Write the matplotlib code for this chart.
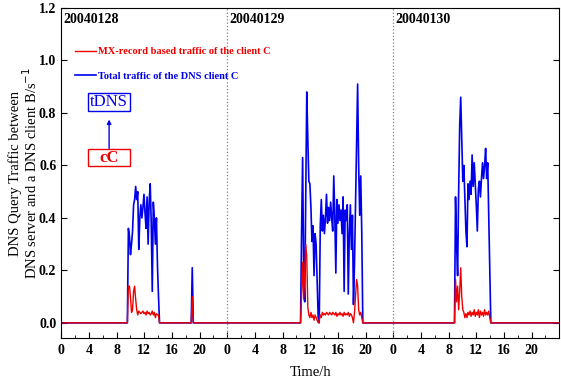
import matplotlib
matplotlib.use("Agg")
import matplotlib.pyplot as plt
import numpy as np
from matplotlib.patches import Rectangle

plt.rcParams['font.family'] = ['Liberation Serif', 'DejaVu Serif']

# sampling step (hours) inside every active period
step = 0.15

# day 1 (20040128)
d1_start = 9.72
d1_blue = [0.36, 0.33, 0.26, 0.30, 0.35, 0.45, 0.47, 0.52, 0.47, 0.50,
           0.28, 0.40, 0.45, 0.40, 0.44, 0.49, 0.42, 0.36, 0.48, 0.30,
           0.46, 0.53, 0.38, 0.12, 0.46, 0.40, 0.30, 0.40, 0.22, 0.10, 0.0]
d1_red = [0.14, 0.14, 0.10, 0.04, 0.05, 0.12, 0.14, 0.09, 0.05, 0.03,
          0.045, 0.04, 0.035, 0.04, 0.045, 0.035, 0.04, 0.03, 0.045, 0.035,
          0.04, 0.03, 0.035, 0.045, 0.03, 0.04, 0.02, 0.035, 0.03, 0.03, 0.0]

# short spike late on day 1
sp_start = 18.95
sp_blue = [0.21]
sp_red = [0.10]

# day 2 (20040129)
d2_start = 34.75
d2_blue = [0.35, 0.63, 0.20, 0.08, 0.50, 0.88, 0.70, 0.54, 0.53, 0.44,
           0.31, 0.37, 0.18, 0.34, 0.30, 0.16, 0.02, 0.0, 0.37, 0.47,
           0.35, 0.41, 0.34, 0.40, 0.49, 0.38, 0.44, 0.39, 0.46, 0.40,
           0.35, 0.56, 0.41, 0.19, 0.47, 0.38, 0.45, 0.39, 0.43, 0.34,
           0.48, 0.12, 0.43, 0.39, 0.45, 0.11, 0.34, 0.45, 0.28, 0.41,
           0.07, 0.23, 0.45, 0.67, 0.91, 0.60, 0.41, 0.56, 0.34]
d2_red = [0.12, 0.23, 0.09, 0.20, 0.30, 0.25, 0.06, 0.03, 0.02, 0.04,
          0.02, 0.03, 0.01, 0.03, 0.02, 0.01, 0.0, 0.01, 0.03, 0.02,
          0.04, 0.03, 0.035, 0.03, 0.04, 0.035, 0.03, 0.04, 0.035, 0.03,
          0.04, 0.035, 0.03, 0.04, 0.025, 0.035, 0.03, 0.04, 0.03, 0.035,
          0.025, 0.04, 0.03, 0.035, 0.03, 0.04, 0.025, 0.035, 0.03, 0.02,
          0.0, 0.04, 0.10, 0.165, 0.14, 0.05, 0.03, 0.04, 0.02]

# day 3 (20040130)
d3_start = 57.0
d3_blue = [0.48, 0.30, 0.18, 0.50, 0.75, 0.86, 0.70, 0.54, 0.60, 0.47,
           0.35, 0.29, 0.53, 0.47, 0.54, 0.49, 0.64, 0.52, 0.61, 0.53,
           0.45, 0.35, 0.51, 0.54, 0.48, 0.55, 0.61, 0.55, 0.60, 0.665,
           0.55, 0.61, 0.40, 0.19, 0.0]
d3_red = [0.165, 0.08, 0.14, 0.05, 0.12, 0.21, 0.10, 0.05, 0.04, 0.02,
          0.035, 0.02, 0.04, 0.03, 0.045, 0.025, 0.04, 0.03, 0.05, 0.025,
          0.04, 0.03, 0.05, 0.02, 0.045, 0.03, 0.04, 0.025, 0.05, 0.03,
          0.04, 0.03, 0.045, 0.02, 0.0]

day_labels = ['20040128', '20040129', '20040130']
tick_hours = [0, 4, 8, 12, 16, 20]


def build(parts):
    t = [0.0]
    v = [0.0]
    for start, vals in parts:
        n = len(vals)
        tt = start + step * np.arange(n)
        t += [start - step] + list(tt) + [tt[-1] + step]
        v += [0.0] + list(vals) + [0.0]
    t.append(72.0)
    v.append(0.0)
    return np.array(t), np.array(v)


t_blue, y_blue = build([(d1_start, d1_blue), (sp_start, sp_blue),
                        (d2_start, d2_blue), (d3_start, d3_blue)])
t_red, y_red = build([(d1_start, d1_red), (sp_start, sp_red),
                      (d2_start, d2_red), (d3_start, d3_red)])

fig, ax = plt.subplots(figsize=(5.61, 3.82), dpi=100)
fig.subplots_adjust(left=0.109, right=0.997, top=0.979, bottom=0.115)

ax.plot(t_blue, y_blue, color='#0000ee', lw=1.2,
        label='Total traffic of the DNS client C')
ax.plot(t_red, y_red, color='#ee0000', lw=1.0,
        label='MX-record based traffic of the client C')

for d in (24, 48):
    ax.axvline(d, color='gray', ls=':', lw=0.9)

for i, lab in enumerate(day_labels):
    ax.text(i * 24 + 0.3, 1.155, lab, fontsize=10, fontweight='bold',
            va='center', ha='left')

ax.set_xlim(0, 72)
ax.set_ylim(-0.058, 1.2)
ax.set_xticks([d * 24 + h for d in range(3) for h in tick_hours])
ax.set_xticklabels([str(h) for d in range(3) for h in tick_hours])
ax.set_xticks(np.arange(0, 73, 2), minor=True)
ax.set_yticks(np.arange(0, 1.21, 0.2))
ax.set_yticklabels(['%.1f' % y for y in np.arange(0, 1.21, 0.2)])
ax.tick_params(direction='in', which='both', right=True, labelsize=10)
ax.tick_params(which='major', length=4)
ax.tick_params(which='minor', length=2.5)
ax.tick_params(axis='x', pad=4.5)
for lab in ax.get_xticklabels() + ax.get_yticklabels():
    lab.set_fontweight('bold')

ax.set_xlabel('Time/h', fontsize=10.5, labelpad=6)
ax.set_ylabel('DNS Query Traffic between\nDNS server and a DNS client B/s$^{-1}$',
              fontsize=10.5, linespacing=0.95, labelpad=-0.5)

h, l = ax.get_legend_handles_labels()
leg = ax.legend(h[::-1], l[::-1], loc='upper left', bbox_to_anchor=(0.009, 0.91),
                frameon=False, handlelength=2.0, handletextpad=0.2,
                labelspacing=1.45, prop={'weight': 'bold', 'size': 7.5},
                labelcolor='linecolor')

# tDNS / cC boxes with arrow
ax.add_patch(Rectangle((3.9, 0.808), 6.06, 0.069, fill=False, ec='#0000ee', lw=1.0))
ax.text(6.93, 0.842, 'tDNS', color='#0000ee', fontsize=12, ha='center', va='center')
ax.add_patch(Rectangle((3.9, 0.596), 6.06, 0.066, fill=False, ec='#ee0000', lw=1.0))
ax.text(6.93, 0.629, 'cC', color='#ee0000', fontsize=12, fontweight='bold',
        ha='center', va='center')
ax.annotate('', xy=(6.93, 0.775), xytext=(6.93, 0.665),
            arrowprops=dict(arrowstyle='-|>', color='#0000ee', lw=1.0,
                            mutation_scale=6, shrinkA=0, shrinkB=0))

plt.savefig('out.png', dpi=100)
